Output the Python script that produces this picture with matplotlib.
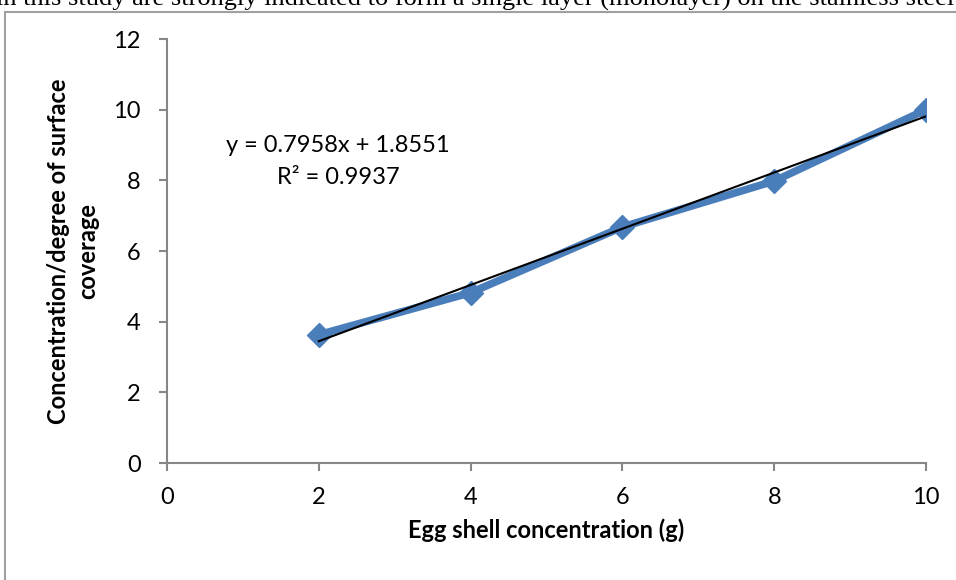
import numpy as np
import matplotlib.pyplot as plt
from matplotlib.patches import Rectangle

# данные
egg_shell = [2, 4, 6, 8, 10]
coverage = [3.63, 4.82, 6.68, 7.98, 10.0]
slope = 0.7958
intercept = 1.8551
r2 = 0.9937
x_ticks = [0, 2, 4, 6, 8, 10]
y_ticks = [0, 2, 4, 6, 8, 10, 12]

plt.rcParams['font.family'] = ['Lato', 'DejaVu Sans']

fig = plt.figure(figsize=(9.56, 5.8), dpi=100)
ax = fig.add_axes([167 / 956, 1 - 463 / 580, (926 - 167) / 956, (463 - 39) / 580])

# рамка диаграммы и текст документа сверху
fig.patches.append(Rectangle((5 / 956, -0.1), 1.1, 1 - 12 / 580 + 0.1,
                             transform=fig.transFigure, fill=False,
                             edgecolor='#a0a0a0', linewidth=1.5))
fig.text(-0.004, 1 - 6 / 580,
         'in this study are strongly indicated to form a single layer (monolayer) on the stainless steel',
         family='Liberation Serif', fontsize=19, va='baseline', ha='left')

# линия данных
ax.plot(egg_shell, coverage, color='#4a7ebb', linewidth=5.5, marker='D',
        markersize=12, solid_joinstyle='round', zorder=3)

# линия тренда
xt = np.array([egg_shell[0], egg_shell[-1]])
ax.plot(xt, slope * xt + intercept, color='black', linewidth=1.5, zorder=4)

fig.text(338 / 956, 1 - 145 / 580, 'y = %.4fx + %.4f' % (slope, intercept),
         fontsize=17, ha='center', va='center')
fig.text(338 / 956, 1 - 177 / 580, 'R² = %.4f' % r2,
         fontsize=17, ha='center', va='center')

ax.set_xlim(0, 10)
ax.set_ylim(0, 12)
ax.set_xticks(x_ticks)
ax.set_yticks(y_ticks)

for s in ['top', 'right']:
    ax.spines[s].set_visible(False)
for s in ['left', 'bottom']:
    ax.spines[s].set_color('#868686')
    ax.spines[s].set_linewidth(1.5)
ax.tick_params(axis='both', colors='#868686', labelcolor='black', labelsize=17,
               length=6, width=1.5, direction='out')
ax.tick_params(axis='y', pad=13)
ax.tick_params(axis='x', pad=11)

ax.set_xlabel('Egg shell concentration (g)', fontsize=17, fontweight='bold', labelpad=8)
ax.set_ylabel('Concentration/degree of surface\ncoverage', fontsize=17,
              fontweight='bold', labelpad=10, linespacing=1.35)

fig.savefig('out.png', dpi=100)
